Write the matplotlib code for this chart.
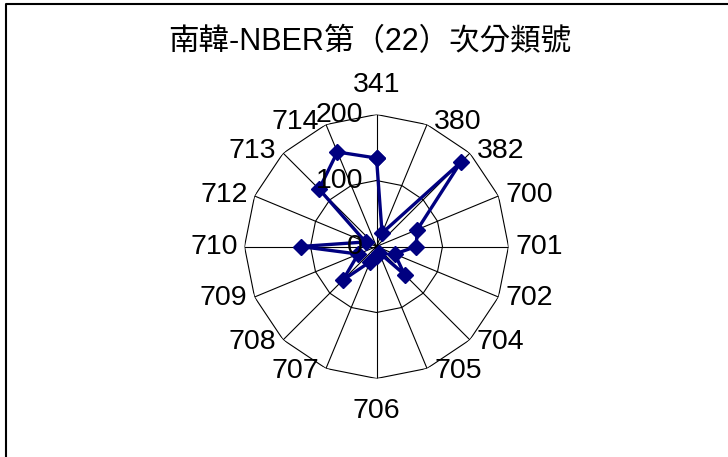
import numpy as np
import matplotlib.pyplot as plt
from matplotlib import font_manager
from matplotlib.lines import Line2D

# NBER class codes around the radar, clockwise from the top
categories = ['341', '380', '382', '700', '701', '702', '704', '705',
              '706', '707', '708', '709', '710', '712', '713', '714']
values = [134, 22, 180, 67, 60, 30, 60, 10, 14, 25, 72, 30, 115, 18, 123, 155]
rings = [100, 200]
ring_ticks = [0, 100, 200]
ring_labels = ['0', '100', '200']
title = '南韓-NBER第（22）次分類號'

installed = {f.name for f in font_manager.fontManager.ttflist}
latin = 'Liberation Sans Narrow' if 'Liberation Sans Narrow' in installed else 'Liberation Sans'
size = 22.8 if latin == 'Liberation Sans Narrow' else 20.5

fig = plt.figure(figsize=(7.28, 4.57), dpi=100)
W, H = 728, 457
cx, cy, R = 376.5, 246.5, 132  # centre and outer radius in pixels
ax = fig.add_axes([(cx - R) / W, (H - cy - R) / H, 2 * R / W, 2 * R / H],
                  projection='polar')
ax.set_theta_zero_location('N')
ax.set_theta_direction(-1)

angles = np.arange(len(categories)) * 2 * np.pi / len(categories)
closed = np.append(angles, angles[0])

# straight-sided grid like a spreadsheet radar chart
for r in rings:
    ax.plot(closed, [r] * len(closed), color='black', lw=0.8)
for a in angles:
    ax.plot([a, a], [0, rings[-1]], color='black', lw=0.8)

ax.plot(closed, values + values[:1], color='#000080', lw=2.4,
        marker='D', ms=8, clip_on=False, zorder=3)

ax.set_ylim(0, rings[-1])
ax.grid(False)
ax.set_xticks([])
ax.set_yticks([])
ax.spines['polar'].set_visible(False)
ax.patch.set_visible(False)

px = 0.72  # points per pixel at 100 dpi
for a, cat in zip(angles, categories):
    s, c = np.sin(a), np.cos(a)
    if abs(s) < 0.1:
        ha, dx, dy = 'center', 0, (30 if c > 0 else -33)
    else:
        ha = 'left' if s > 0 else 'right'
        dx, dy = 7 * np.sign(s), 3 * c
    ax.annotate(cat, xy=(a, rings[-1]), xytext=(dx * px, dy * px),
                textcoords='offset points', ha=ha, va='center',
                fontsize=size, family=latin, annotation_clip=False)

for r, lab in zip(ring_ticks, ring_labels):
    ax.annotate(lab, xy=(0, r), xytext=(-13.5 * px, 0),
                textcoords='offset points', ha='right', va='center',
                fontsize=size, family=latin, zorder=5, annotation_clip=False)

fig.text(370 / W, 1 - 42 / H, title, ha='center', va='center',
         fontsize=22, family=[latin, 'Noto Sans CJK TC'])

# chart frame, running off the right and bottom edges
fig.add_artist(Line2D([6 / W, 6 / W, 1.01], [-0.01, 1 - 3.5 / H, 1 - 3.5 / H],
                      color='black', lw=1.5, transform=fig.transFigure))

fig.savefig('out.png', dpi=100)
